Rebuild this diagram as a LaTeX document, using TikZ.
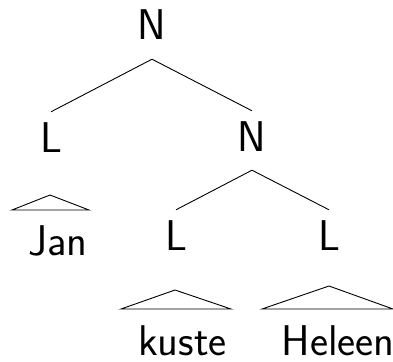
\documentclass[tikz,border=0pt]{standalone}
\begin{document}
\begin{tikzpicture}[x=1pt,y=-1pt,
  every node/.style={font=\fontsize{43}{50}\selectfont\sffamily},
  cat/.style={text height=30pt, text depth=9pt, inner xsep=0pt, inner ysep=10pt, anchor=base},
  word/.style={inner sep=0pt, text depth=0pt, anchor=base},
  edge/.style={line width=0.9pt}]
\useasboundingbox (0,0) rectangle (393,361);
\node[cat] (n0) at (152,40) {N};
\node[cat] (l1) at (51,152) {L};
\node[cat] (n1) at (252,151) {N};
\node[cat] (l2) at (176,250) {L};
\node[cat] (l3) at (329,250) {L};
\node[word] (w1) at (58,255) {Jan};
\node[word] (w2) at (182.5,355) {kuste};
\node[word] (w3) at (338,355) {Heleen};
\coordinate (t1) at (50,195);
\coordinate (t1l) at (12,210);
\coordinate (t1r) at (89,210);
\coordinate (t2) at (175,290);
\coordinate (t2l) at (121,309);
\coordinate (t2r) at (231,309);
\coordinate (t3) at (329,286);
\coordinate (t3l) at (262,309);
\coordinate (t3r) at (393,309);
\draw[edge] (n0.south) -- (l1.north);
\draw[edge] (n0.south) -- (n1.north);
\draw[edge] (n1.south) -- (l2.north);
\draw[edge] (n1.south) -- (l3.north);
\draw[edge] (t1) -- (t1l) -- (t1r) -- cycle;
\draw[edge] (t2) -- (t2l) -- (t2r) -- cycle;
\draw[edge] (t3) -- (t3l) -- (t3r) -- cycle;
\end{tikzpicture}
\end{document}
